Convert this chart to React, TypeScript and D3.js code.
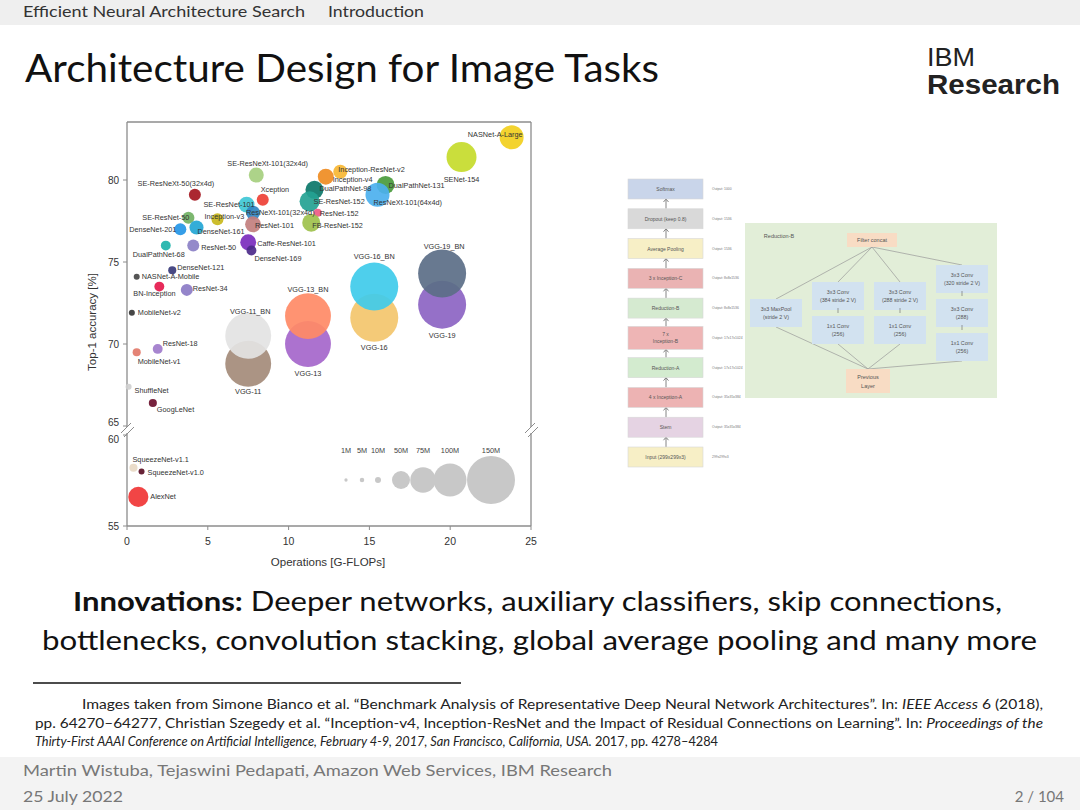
import React from "react";
import * as d3 from "d3";

// ---- bubble chart data ----
const modelNames = [
  "NASNet-A-Large", "SENet-154", "SE-ResNeXt-101(32x4d)", "SE-ResNeXt-50(32x4d)", "Xception",
  "SE-ResNet-101", "ResNeXt-101(32x4d)", "Inception-ResNet-v2", "Inception-v4", "DualPathNet-131",
  "ResNeXt-101(64x4d)", "DualPathNet-98", "SE-ResNet-152", "ResNet-152", "FB-ResNet-152",
  "Inception-v3", "SE-ResNet-50", "DenseNet-201", "DenseNet-161", "ResNet-101",
  "Caffe-ResNet-101", "DenseNet-169", "ResNet-50", "DualPathNet-68", "DenseNet-121",
  "NASNet-A-Mobile", "BN-Inception", "ResNet-34", "MobileNet-v2", "ResNet-18",
  "MobileNet-v1", "ShuffleNet", "GoogLeNet", "VGG-11", "VGG-11_BN",
  "VGG-13", "VGG-13_BN", "VGG-16", "VGG-16_BN", "VGG-19",
  "VGG-19_BN", "SqueezeNet-v1.1", "SqueezeNet-v1.0", "AlexNet",
];
const modelFlops = [
  23.8, 20.7, 8.0, 4.2, 8.4,
  7.4, 7.8, 13.2, 12.3, 16.0,
  15.5, 11.6, 11.3, 11.8, 11.4,
  5.6, 3.8, 3.3, 4.3, 7.8,
  7.5, 7.7, 4.1, 2.4, 2.8,
  0.6, 2.0, 3.7, 0.3, 1.9,
  0.6, 0.1, 1.6, 7.5, 7.5,
  11.2, 11.2, 15.3, 15.3, 19.5,
  19.5, 0.4, 0.9, 0.7,
];
const modelAccuracy = [
  82.6, 81.4, 80.3, 79.1, 78.8,
  78.5, 78.0, 80.5, 80.2, 79.7,
  79.1, 79.4, 78.7, 78.0, 77.4,
  77.6, 77.7, 77.0, 77.1, 77.3,
  76.2, 75.7, 76.0, 76.0, 74.5,
  74.1, 73.5, 73.3, 71.9, 69.7,
  69.5, 67.4, 66.4, 68.8, 70.5,
  70.0, 71.7, 71.6, 73.5, 72.4,
  74.3, 58.2, 58.0, 56.6,
];
// parameters in millions
const modelParams = [
  70, 90, 40, 30, 30,
  43, 37, 37, 43, 50,
  70, 50, 57, 17, 50,
  30, 30, 30, 37, 43,
  43, 23, 30, 23, 17,
  10, 23, 30, 10, 23,
  17, 10, 17, 143, 143,
  143, 143, 150, 150, 150,
  150, 17, 10, 57,
];
const modelColors = [
  "#f2cf1d", "#c5db2b", "#a6cf7f", "#a4161e", "#ee4035",
  "#3fc7d6", "#2f86c2", "#f7b733", "#ef8c22", "#4a9a3c",
  "#4cb0ee", "#0b7769", "#24a293", "#ee5b86", "#9ec14c",
  "#c9b91c", "#71b163", "#2496e6", "#23a6d5", "#c27f7e",
  "#7a2dbd", "#4c2a8a", "#8b80c6", "#1db3aa", "#393b7a",
  "#474747", "#e5194c", "#8b7bc6", "#363636", "#a07bcb",
  "#e2796a", "#cfcfcf", "#6a0f2b", "#a48b79", "#e3e3e3",
  "#a566cb", "#ff8a66", "#f3c56d", "#3fcbea", "#8c64c3",
  "#5b6e87", "#e8d9c4", "#5a0f25", "#f03535",
];
// label placement relative to bubble centre: [dx, dy, anchor]
const labelPlacement: [number, number, string][] = [
  [11, -3, "end"], [0, 22, "middle"], [-29, -12, "start"], [-19, -11, "middle"], [-2, -10, "start"],
  [8, 0, "end"], [-7, 0, "start"], [-2, -2, "start"], [7, 3, "start"], [3, 1, "start"],
  [-4, 8, "start"], [5, -1, "start"], [4, 0, "start"], [2, 1, "start"], [1, 3, "start"],
  [-13, -3, "start"], [1, 0, "end"], [-4, 0, "end"], [1, 4, "start"], [2, 1, "start"],
  [9, 1, "start"], [3, 8, "start"], [8, 2, "start"], [-33, 9, "start"], [5, -3, "start"],
  [5, 0, "start"], [-26, 7, "start"], [6, -1, "start"], [6, 0, "start"], [5, -5, "start"],
  [1, 9, "start"], [6, 4, "start"], [4, 6, "start"], [0, 28, "middle"], [2, -24, "middle"],
  [0, 29, "middle"], [0, -27, "middle"], [0, 30, "middle"], [0, -30, "middle"], [0, 31, "middle"],
  [2, -27, "middle"], [-1, -8, "start"], [6, 1, "start"], [12, 0, "start"],
];

const xTicks = [0, 5, 10, 15, 20, 25];
const yTicksUpper = [65, 70, 75, 80];
const yTicksLower = [55, 60];
const legendParams = [1, 5, 10, 50, 75, 100, 150];
const legendLabels = ["1M", "5M", "10M", "50M", "75M", "100M", "150M"];
const legendOffsets = [0, 16, 32, 55, 77, 104, 145];

// ---- Inception-v4 overview ----
const layerNames = [
  "Softmax", "Dropout (keep 0.8)", "Average Pooling", "3 x Inception-C", "Reduction-B",
  "7 x|Inception-B", "Reduction-A", "4 x Inception-A", "Stem", "Input (299x299x3)",
];
const layerOutputs = [
  "Output: 1000", "Output: 1536", "Output: 1536", "Output: 8x8x1536", "Output: 8x8x1536",
  "Output: 17x17x1024", "Output: 17x17x1024", "Output: 35x35x384", "Output: 35x35x384", "299x299x3",
];
const layerColors = [
  "#c9d5ea", "#d9d9d9", "#f7efc6", "#eab3b3", "#d5ead0",
  "#eeb5b5", "#d3ebcf", "#edb3b3", "#e5d3e3", "#f7efc6",
];
const reductionBranches = [
  [["3x3 MaxPool", "(stride 2 V)"]],
  [["3x3 Conv", "(384 stride 2 V)"], ["1x1 Conv", "(256)"]],
  [["3x3 Conv", "(288 stride 2 V)"], ["1x1 Conv", "(256)"]],
  [["3x3 Conv", "(320 stride 2 V)"], ["3x3 Conv", "(288)"], ["1x1 Conv", "(256)"]],
];

const slideFont = "Lato, 'Open Sans', sans-serif";
const chartFont = "'Liberation Sans', Arial, sans-serif";

function BubbleChart() {
  const x = d3.scaleLinear().domain([0, 25]).range([127, 531]);
  const yUpper = d3.scaleLinear().domain([65, 80]).range([426, 180]);
  const yLower = d3.scaleLinear().domain([55, 60]).range([526, 435]);
  const y = (v: number) => (v >= 62 ? yUpper(v) : yLower(v));
  const r = d3.scaleLinear().domain([0, 150]).range([1.5, 24]);
  const left = x(0), right = x(25), top = 122, bottom = yLower(55);
  const frame = "#8c8c8c";

  const data = modelNames.map((name, i) => ({
    name, flops: modelFlops[i], acc: modelAccuracy[i], params: modelParams[i],
    color: modelColors[i], place: labelPlacement[i],
  }));

  const breakMark = (cx: number) => (
    <g stroke={frame} strokeWidth={1}>
      <rect x={cx - 7} y={427} width={14} height={6} fill="#fff" stroke="none" />
      <line x1={cx - 6} y1={433} x2={cx + 4} y2={423} />
      <line x1={cx - 3} y1={437} x2={cx + 7} y2={427} />
    </g>
  );

  return (
    <g fontFamily={chartFont}>
      {/* frame */}
      <g stroke={frame} strokeWidth={1.3} fill="none">
        <line x1={left} y1={top} x2={right} y2={top} />
        <line x1={left} y1={bottom} x2={right} y2={bottom} />
        <line x1={left} y1={top} x2={left} y2={bottom} />
        <line x1={right} y1={top} x2={right} y2={bottom} />
      </g>
      {breakMark(left)}
      {breakMark(right)}

      {/* bubbles */}
      {data.map((d) => (
        <circle key={d.name} cx={x(d.flops)} cy={y(d.acc)} r={r(d.params)} fill={d.color} opacity={0.92} />
      ))}
      {/* labels */}
      {data.map((d) => (
        <text key={d.name + "l"} x={x(d.flops) + d.place[0]} y={y(d.acc) + d.place[1]}
          textAnchor={d.place[2] as any} dominantBaseline="central" fontSize={7.3} fill="#333">
          {d.name}
        </text>
      ))}

      {/* legend */}
      {legendParams.map((p, i) => (
        <g key={p}>
          <circle cx={346 + legendOffsets[i]} cy={480} r={r(p)} fill="#c8c8c8" />
          <text x={346 + legendOffsets[i]} y={450} textAnchor="middle" dominantBaseline="central"
            fontSize={7.3} fill="#444">{legendLabels[i]}</text>
        </g>
      ))}

      {/* axes ticks */}
      {xTicks.map((t) => (
        <g key={"x" + t}>
          <line x1={x(t)} x2={x(t)} y1={bottom} y2={bottom + 4} stroke={frame} />
          <text x={x(t)} y={541} textAnchor="middle" dominantBaseline="central" fontSize={10.5} fill="#333">{t}</text>
        </g>
      ))}
      {yTicksUpper.map((t) => (
        <g key={"yu" + t}>
          <line x1={left - 4} x2={left} y1={yUpper(t)} y2={yUpper(t)} stroke={frame} />
          <text x={119} y={t === 65 ? yUpper(t) - 4 : yUpper(t)} textAnchor="end" dominantBaseline="central"
            fontSize={10} fill="#333">{t}</text>
        </g>
      ))}
      {yTicksLower.map((t) => (
        <g key={"yl" + t}>
          <line x1={left - 4} x2={left} y1={yLower(t)} y2={yLower(t)} stroke={frame} />
          <text x={119} y={t === 60 ? yLower(t) + 4 : yLower(t)} textAnchor="end" dominantBaseline="central"
            fontSize={10} fill="#333">{t}</text>
        </g>
      ))}
      <text x={328} y={562} textAnchor="middle" dominantBaseline="central" fontSize={11.5} fill="#333">
        Operations [G-FLOPs]
      </text>
      <text transform="translate(92,322) rotate(-90)" textAnchor="middle" dominantBaseline="central"
        fontSize={11.5} fill="#333">Top-1 accuracy [%]</text>
    </g>
  );
}

function InceptionDiagram() {
  const cy = d3.scalePoint().domain(layerNames).range([189, 457]);
  const bx = 628, bw = 75;
  const col = d3.scalePoint<number>().domain([0, 1, 2, 3]).range([776, 962]);
  const concatY = 240, prevY = 381, midY = 313, step = 34;
  const bw2 = 52, bh2 = 28;

  return (
    <g fontFamily={chartFont}>
      {/* stack */}
      {layerNames.map((name, i) => {
        const c = cy(name)!;
        const h = name.includes("|") ? 23 : 20;
        const lines = name.split("|");
        const next = i < layerNames.length - 1 ? cy(layerNames[i + 1])! : null;
        return (
          <g key={name}>
            {next !== null && (
              <g stroke="#666" strokeWidth={0.8}>
                <line x1={666} x2={666} y1={c + h / 2} y2={next - 10} />
                <path d={`M663.5,${c + h / 2 + 3} L666,${c + h / 2} L668.5,${c + h / 2 + 3}`} fill="none" />
              </g>
            )}
            <rect x={bx} y={c - h / 2} width={bw} height={h} fill={layerColors[i]} stroke="#d8d8d8" strokeWidth={0.6} />
            {lines.map((ln, j) => (
              <text key={j} x={bx + bw / 2} y={c + (j - (lines.length - 1) / 2) * 7} textAnchor="middle"
                dominantBaseline="central" fontSize={5} fill="#555">{ln}</text>
            ))}
            <text x={712} y={c} dominantBaseline="central" fontSize={3.4} fill="#777">{layerOutputs[i]}</text>
          </g>
        );
      })}

      {/* Reduction-B */}
      <rect x={745} y={223} width={252} height={175} fill="#e2eed8" />
      <text x={779} y={236} textAnchor="middle" dominantBaseline="central" fontSize={5.5} fill="#555">Reduction-B</text>
      {reductionBranches.map((branch, bi) => {
        const cx = col(bi)!;
        const n = branch.length;
        const ys = branch.map((_, k) => midY + (k - (n - 1) / 2) * step);
        return (
          <g key={bi}>
            <line x1={868} y1={prevY - 12} x2={cx} y2={ys[n - 1] + bh2 / 2} stroke="#9a9a9a" strokeWidth={0.7} />
            <line x1={872} y1={concatY + 7} x2={cx} y2={ys[0] - bh2 / 2} stroke="#9a9a9a" strokeWidth={0.7} />
            {branch.map((b, k) => (
              <g key={k}>
                <rect x={cx - bw2 / 2} y={ys[k] - bh2 / 2} width={bw2} height={bh2} fill="#d2e2f0" />
                <text x={cx} y={ys[k] - 4} textAnchor="middle" dominantBaseline="central" fontSize={5.3} fill="#555">{b[0]}</text>
                <text x={cx} y={ys[k] + 4} textAnchor="middle" dominantBaseline="central" fontSize={5.3} fill="#555">{b[1]}</text>
                {k < n - 1 && (
                  <line x1={cx} x2={cx} y1={ys[k] + bh2 / 2 - 2} y2={ys[k] + bh2 / 2 + 3} stroke="#777" strokeWidth={0.7} />
                )}
              </g>
            ))}
          </g>
        );
      })}
      <rect x={847} y={concatY - 7} width={50} height={14} fill="#f8dcc4" />
      <text x={872} y={concatY} textAnchor="middle" dominantBaseline="central" fontSize={5.5} fill="#555">Filter concat</text>
      <rect x={846} y={prevY - 12} width={44} height={24} fill="#f8dcc4" />
      <text x={868} y={prevY - 4} textAnchor="middle" dominantBaseline="central" fontSize={5.5} fill="#555">Previous</text>
      <text x={868} y={prevY + 5} textAnchor="middle" dominantBaseline="central" fontSize={5.5} fill="#555">Layer</text>
    </g>
  );
}

export default function App() {
  return (
    <svg width={1080} height={810} style={{ position: "absolute", left: 0, top: 0, background: "#fff" }}
      fontFamily={slideFont}>
      {/* header */}
      <rect x={0} y={0} width={1080} height={25} fill="#efefef" />
      <text x={23} y={17} fontSize={15} fill="#333" textLength={282} lengthAdjust="spacingAndGlyphs">Efficient Neural Architecture Search</text>
      <text x={328} y={17} fontSize={15} fill="#333" textLength={96} lengthAdjust="spacingAndGlyphs">Introduction</text>

      <text x={25} y={82} fontSize={39} fill="#111" textLength={634} lengthAdjust="spacingAndGlyphs">
        Architecture Design for Image Tasks
      </text>
      <text x={927} y={66} fontSize={25} fill="#222" fontFamily={chartFont} textLength={48} lengthAdjust="spacingAndGlyphs">IBM</text>
      <text x={927} y={94} fontSize={28} fontWeight="bold" fill="#222" fontFamily={chartFont} textLength={133} lengthAdjust="spacingAndGlyphs">Research</text>

      <BubbleChart />
      <InceptionDiagram />

      {/* text */}
      <text x={73} y={611} fontSize={27} fill="#111" textLength={929} lengthAdjust="spacingAndGlyphs">
        <tspan fontWeight="bold">Innovations:</tspan> Deeper networks, auxiliary classifiers, skip connections,
      </text>
      <text x={42} y={650} fontSize={27} fill="#111" textLength={995} lengthAdjust="spacingAndGlyphs">
        bottlenecks, convolution stacking, global average pooling and many more
      </text>

      <line x1={33} x2={461} y1={683} y2={683} stroke="#111" strokeWidth={1.3} />
      <text x={82} y={709} fontSize={12.5} fill="#222" textLength={961} lengthAdjust="spacingAndGlyphs">
        Images taken from Simone Bianco et al. “Benchmark Analysis of Representative Deep Neural Network Architectures”. In: <tspan fontStyle="italic">IEEE Access</tspan> 6 (2018),
      </text>
      <text x={35} y={728} fontSize={12.5} fill="#222" textLength={1008} lengthAdjust="spacingAndGlyphs">
        pp. 64270–64277, Christian Szegedy et al. “Inception-v4, Inception-ResNet and the Impact of Residual Connections on Learning”. In: <tspan fontStyle="italic">Proceedings of the</tspan>
      </text>
      <text x={35} y={746} fontSize={12.5} fill="#222" textLength={683} lengthAdjust="spacingAndGlyphs">
        <tspan fontStyle="italic">Thirty-First AAAI Conference on Artificial Intelligence, February 4-9, 2017, San Francisco, California, USA.</tspan> 2017, pp. 4278–4284
      </text>

      {/* footer */}
      <rect x={0} y={757} width={1080} height={53} fill="#f3f3f3" />
      <text x={23} y={776} fontSize={15} fill="#777" textLength={589} lengthAdjust="spacingAndGlyphs">
        Martin Wistuba, Tejaswini Pedapati, Amazon Web Services, IBM Research
      </text>
      <text x={23} y={802} fontSize={15} fill="#777" textLength={100} lengthAdjust="spacingAndGlyphs">25 July 2022</text>
      <text x={1064} y={802} fontSize={15} fill="#777" textAnchor="end">2 / 104</text>
    </svg>
  );
}
